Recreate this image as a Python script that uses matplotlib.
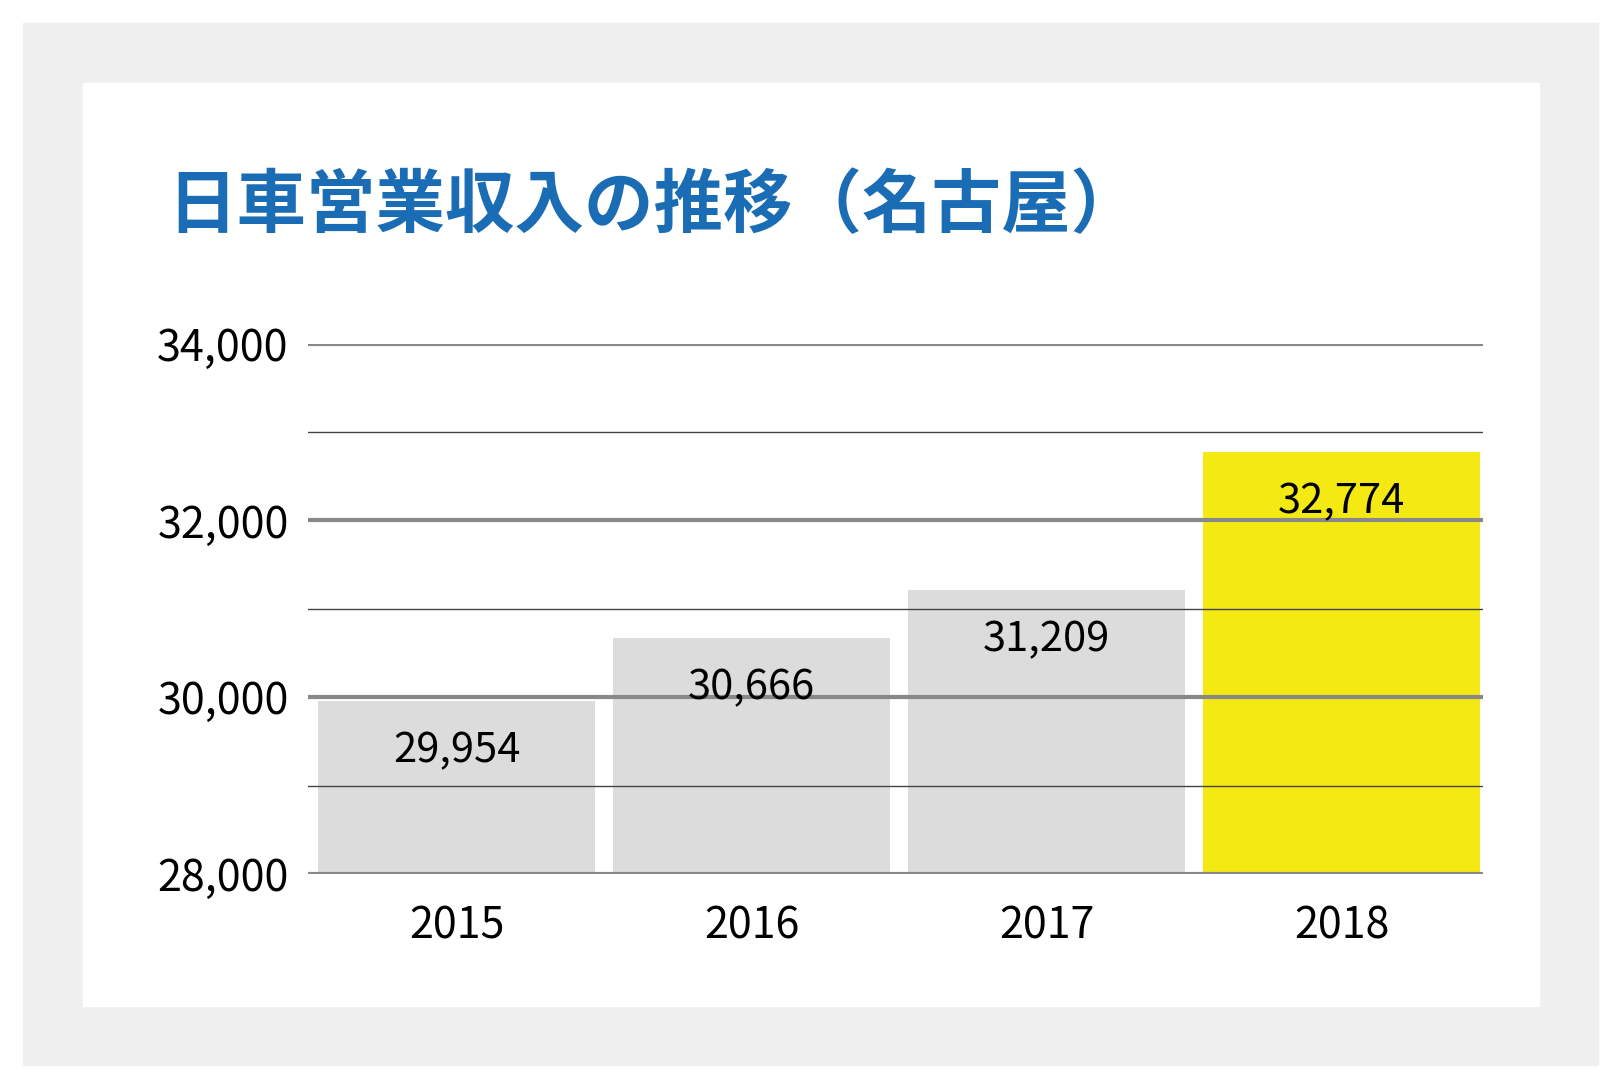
import matplotlib.pyplot as plt
from matplotlib.patches import Rectangle

years = ["2015", "2016", "2017", "2018"]
revenue = [29954, 30666, 31209, 32774]
bar_colors = ["#dcdcdc", "#dcdcdc", "#dcdcdc", "#f5e914"]
title = "日車営業収入の推移（名古屋）"

plt.rcParams["font.family"] = ["Noto Sans CJK JP", "DejaVu Sans"]

fig = plt.figure(figsize=(16.22, 10.91), dpi=100)
fig.patches.append(Rectangle((0.014, 0.024), 0.971, 0.955, transform=fig.transFigure,
                             color="#efefef", zorder=-2))
fig.patches.append(Rectangle((0.051, 0.078), 0.898, 0.846, transform=fig.transFigure,
                             color="white", zorder=-1))
fig.text(0.103, 0.81, title, fontsize=50, fontweight="bold", color="#1a6cb5",
         va="center", ha="left")

ax = fig.add_axes([0.19, 0.199, 0.724, 0.486])
x = range(len(years))
ax.bar(x, [v - 28000 for v in revenue], bottom=28000, width=0.94, color=bar_colors, zorder=1)
for i, v in enumerate(revenue):
    ax.text(i, v - 560, f"{v:,}", ha="center", va="center", fontsize=30, zorder=3)

for y in range(28000, 34001, 1000):
    if y % 2000 == 0:
        ax.axhline(y, color="#888888", lw=3, zorder=2)
    else:
        ax.axhline(y, color="#444444", lw=1, zorder=2)

ax.set_xlim(-0.504, 3.478)
ax.set_ylim(28000, 34000)
ax.set_yticks(range(28000, 34001, 2000))
ax.set_yticklabels([f"{t:,}" for t in range(28000, 34001, 2000)], fontsize=31)
ax.set_xticks(list(x))
ax.set_xticklabels(years, fontsize=31)
ax.tick_params(length=0, pad=14)
ax.tick_params(axis="x", pad=22)
for s in ax.spines.values():
    s.set_visible(False)
ax.patch.set_alpha(0)

fig.savefig("out.png", dpi=100)
